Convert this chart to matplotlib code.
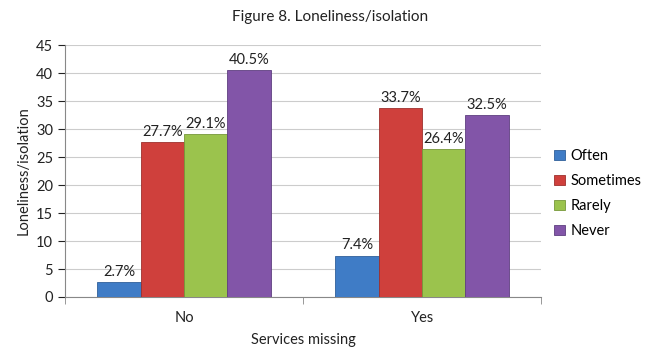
import numpy as np
import matplotlib.pyplot as plt

plt.rcParams['font.family'] = ['Lato', 'DejaVu Sans']

groups = ['No', 'Yes']
series = ['Often', 'Sometimes', 'Rarely', 'Never']
often = [2.7, 7.4]
sometimes = [27.7, 33.7]
rarely = [29.1, 26.4]
never = [40.5, 32.5]
colors = ['#3f7cc6', '#cf403c', '#9bc34d', '#8255a8']
edges = ['#2f5f9a', '#9e302d', '#76983a', '#5f3f80']

fig = plt.figure(figsize=(6.6, 3.49), dpi=100)
ax = fig.add_axes([0.0985, 0.149, 0.7215, 0.722])

x = np.arange(len(groups))
w = 0.182
for i, (name, vals) in enumerate(zip(series, [often, sometimes, rarely, never])):
    pos = x + (i - 1.5) * w
    bars = ax.bar(pos, vals, w, color=colors[i], edgecolor=edges[i], linewidth=0.6,
                  label=name, zorder=3)
    for b, v in zip(bars, vals):
        ax.text(b.get_x() + b.get_width() / 2, v + 0.6, f'{v}%', ha='center',
                va='bottom', fontsize=10.5, color='#222222')

ax.set_xlim(-0.5, 1.5)
ax.set_ylim(0, 45)
ax.set_yticks(range(0, 50, 5))
ax.set_xticks(x)
ax.set_xticklabels(groups)
ax.set_xticks([-0.5, 0.5, 1.5], minor=True)
ax.tick_params(axis='x', which='major', length=0, pad=10)
ax.tick_params(axis='x', which='minor', length=5, color='#888888')
ax.tick_params(axis='y', length=5, color='#888888')
ax.tick_params(labelsize=10.5, colors='#222222')
ax.grid(axis='y', color='#cccccc', linewidth=0.8, zorder=0)
for s in ['top', 'right']:
    ax.spines[s].set_visible(False)
for s in ['left', 'bottom']:
    ax.spines[s].set_color('#888888')

ax.set_ylabel('Loneliness/isolation', fontsize=10.5, color='#222222')
ax.set_xlabel('Services missing', fontsize=10.5, color='#222222', labelpad=6)
fig.text(0.5, 0.95, 'Figure 8. Loneliness/isolation', ha='center', va='center',
         fontsize=11, color='#222222')

ax.legend(loc='center left', bbox_to_anchor=(1.0, 0.41), frameon=False,
          fontsize=10.5, handlelength=0.7, handleheight=0.7, handletextpad=0.4,
          labelspacing=0.75)

fig.savefig('out.png', dpi=100)
